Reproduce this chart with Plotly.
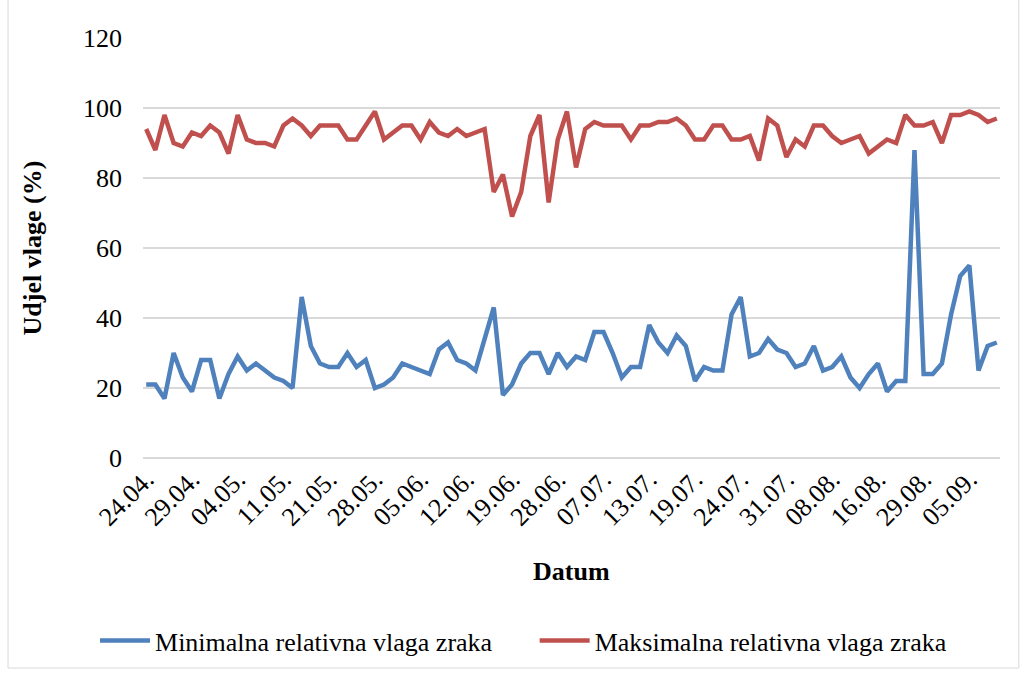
import plotly.graph_objects as go

tick_labels = ["24.04.", "29.04.", "04.05.", "11.05.", "21.05.", "28.05.", "05.06.", "12.06.",
               "19.06.", "28.06.", "07.07.", "13.07.", "19.07.", "24.07.", "31.07.", "08.08.",
               "16.08.", "29.08.", "05.09."]

min_rh = [21, 21, 17, 30, 23, 19, 28, 28, 17, 24,
          29, 25, 27, 25, 23, 22, 20, 46, 32, 27,
          26, 26, 30, 26, 28, 20, 21, 23, 27, 26,
          25, 24, 31, 33, 28, 27, 25, 34, 43, 18,
          21, 27, 30, 30, 24, 30, 26, 29, 28, 36,
          36, 30, 23, 26, 26, 38, 33, 30, 35, 32,
          22, 26, 25, 25, 41, 46, 29, 30, 34, 31,
          30, 26, 27, 32, 25, 26, 29, 23, 20, 24,
          27, 19, 22, 22, 88, 24, 24, 27, 41, 52,
          55, 25, 32, 33]

max_rh = [94, 88, 98, 90, 89, 93, 92, 95, 93, 87,
          98, 91, 90, 90, 89, 95, 97, 95, 92, 95,
          95, 95, 91, 91, 95, 99, 91, 93, 95, 95,
          91, 96, 93, 92, 94, 92, 93, 94, 76, 81,
          69, 76, 92, 98, 73, 91, 99, 83, 94, 96,
          95, 95, 95, 91, 95, 95, 96, 96, 97, 95,
          91, 91, 95, 95, 91, 91, 92, 85, 97, 95,
          86, 91, 89, 95, 95, 92, 90, 91, 92, 87,
          89, 91, 90, 98, 95, 95, 96, 90, 98, 98,
          99, 98, 96, 97]

x = list(range(len(min_rh)))
tick_step = 5
tickvals = [i * tick_step for i in range(len(tick_labels))]

FONT = "Liberation Serif, Times New Roman, serif"
FS = 26

fig = go.Figure()
fig.add_trace(go.Scatter(x=x, y=min_rh, mode="lines", name="Minimalna relativna vlaga zraka",
                         line=dict(color="#4F81BD", width=4.5), legend="legend"))
fig.add_trace(go.Scatter(x=x, y=max_rh, mode="lines", name="Maksimalna relativna vlaga zraka",
                         line=dict(color="#C0504D", width=4.5), legend="legend2"))

legend_common = dict(orientation="h", y=-0.435, yanchor="middle", xanchor="left",
                     font=dict(family=FONT, size=FS, color="black"), itemwidth=50,
                     bgcolor="rgba(0,0,0,0)")

fig.update_layout(
    width=1026, height=675,
    margin=dict(l=143, r=26, t=38, b=217, autoexpand=False),
    paper_bgcolor="white", plot_bgcolor="white",
    font=dict(family=FONT, size=FS, color="black"),
    showlegend=True,
    legend=dict(x=-0.056, **legend_common),
    legend2=dict(x=0.457, **legend_common),
    xaxis=dict(range=[-0.35, len(x) - 1 + 0.35], tickmode="array", tickvals=tickvals,
               ticktext=tick_labels, tickangle=-45, showgrid=False, zeroline=False,
               showline=False, ticks="", tickfont=dict(family=FONT, size=FS)),
    yaxis=dict(range=[0, 120], dtick=20, showgrid=True, gridcolor="#D9D9D9", gridwidth=2,
               zeroline=True, zerolinecolor="#D9D9D9", zerolinewidth=2,
               showline=False, ticks="", ticklabelstandoff=20,
               tickfont=dict(family=FONT, size=FS)),
    annotations=[
        dict(text="<b>Udjel vlage (%)</b>", xref="paper", yref="paper", x=-0.129, y=0.50,
             xanchor="center", yanchor="middle", textangle=-90, showarrow=False,
             font=dict(family=FONT, size=FS)),
        dict(text="<b>Datum</b>", xref="paper", yref="paper", x=0.5, y=-0.27,
             xanchor="center", yanchor="middle", showarrow=False,
             font=dict(family=FONT, size=FS)),
    ],
    shapes=[dict(type="rect", xref="paper", yref="paper", x0=-0.1575, x1=1.022, y0=-0.5, y1=1.2,
                 line=dict(color="#D9D9D9", width=1), fillcolor="rgba(0,0,0,0)", layer="above")],
)

fig.write_html("out.html", post_script="document.body.style.margin='0';",
               config={"displayModeBar": False})
